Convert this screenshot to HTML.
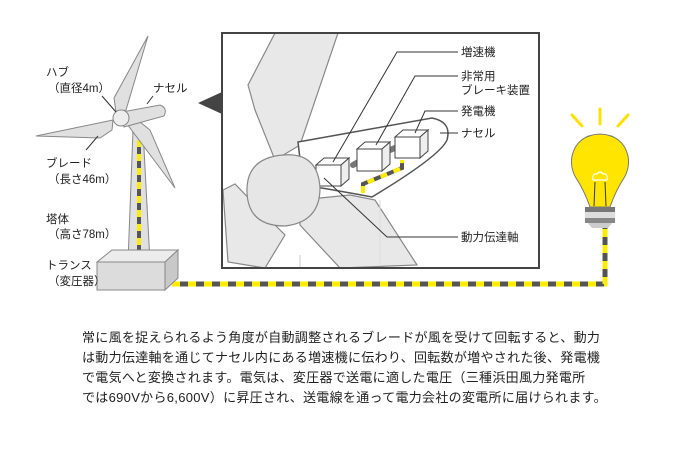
<!DOCTYPE html>
<html><head><meta charset="utf-8"><style>
html,body{margin:0;padding:0;background:#fff;}
svg{display:block;}
text{font-family:"Liberation Sans","Noto Sans CJK JP",sans-serif;fill:#222;}
</style></head><body>
<svg width="674" height="473" viewBox="0 0 674 473" xmlns="http://www.w3.org/2000/svg">
<!-- cable -->
<polyline points="172,284 605,284 605,228" fill="none" stroke="#555" stroke-width="5"/>
<polyline points="172,284 605,284 605,228" fill="none" stroke="#ffec00" stroke-width="5" stroke-dasharray="8,8"/>
<!-- tower -->
<polygon points="133,130 143,130 150,262 128,262" fill="#e0e0e0" stroke="#888" stroke-width="1"/>
<line x1="139" y1="140" x2="139" y2="258" stroke="#555" stroke-width="4"/>
<line x1="139" y1="140" x2="139" y2="258" stroke="#ffec00" stroke-width="4" stroke-dasharray="7,7"/>
<!-- base box -->
<polygon points="97,262 112,250 178,250 165,262" fill="#ececec" stroke="#888"/>
<polygon points="97,262 165,262 165,290 97,290" fill="#dcdcdc" stroke="#888"/>
<polygon points="165,262 178,250 178,278 165,290" fill="#c8c8c8" stroke="#888"/>
<!-- blades -->
<polygon points="148,36 126,110 116,112 114,98" fill="#e0e0e0" stroke="#888"/>
<polygon points="36,136 113,120 112,130 100,138" fill="#e0e0e0" stroke="#888"/>
<polygon points="175,188 127,124 135,118 150,130" fill="#e0e0e0" stroke="#888"/>
<!-- nacelle -->
<path d="M122,112 L160,105 Q168,108 164,116 L124,127 Z" fill="#e0e0e0" stroke="#888"/>
<circle cx="121" cy="118" r="8" fill="#ededed" stroke="#888"/>
<!-- leader lines -->
<line x1="102" y1="96" x2="116" y2="112" stroke="#333"/>
<line x1="86" y1="150" x2="98" y2="136" stroke="#333"/>
<line x1="153" y1="96" x2="147" y2="104" stroke="#333"/>
<!-- labels left -->
<g font-size="11.5">
<text x="46" y="76">ハブ</text>
<text x="48" y="92">（直径4m）</text>
<text x="153" y="92">ナセル</text>
<text x="46" y="167">ブレード</text>
<text x="48" y="183">（長さ46m）</text>
<text x="46" y="223">塔体</text>
<text x="48" y="238">（高さ78m）</text>
<text x="46" y="269">トランス</text>
<text x="48" y="285">（変圧器）</text>
</g>
<!-- pointer -->
<polygon points="198,103 222,92 222,114" fill="#444"/>
<!-- inset -->
<rect x="222" y="33" width="317" height="235" fill="#fff" stroke="#444" stroke-width="2"/>
<clipPath id="c"><rect x="223" y="34" width="315" height="233"/></clipPath>
<g clip-path="url(#c)">
<path d="M275,33 L338,33 L300,145 L275,160 L255,110 L248,85 Z" fill="#e8e8e8" stroke="#888" stroke-width="1.2"/>
<path d="M300,200 L350,195 L375,200 L417,265 L340,268 L300,225 Z" fill="#e8e8e8" stroke="#888" stroke-width="1.2"/>
<path d="M265,215 L285,235 L265,268 L228,262 L223,190 L235,184 Z" fill="#e8e8e8" stroke="#888" stroke-width="1.2"/>
<line x1="300" y1="268" x2="300" y2="255" stroke="#ccc"/>
<line x1="380" y1="200" x2="380" y2="265" stroke="#ddd"/>
<path d="M298,142 L432,118 Q452,122 447,140 Q440,156 372,197 Q335,190 303,185 Z" fill="#fff" stroke="#555" stroke-width="1.5"/>
<!-- shafts -->
<g stroke="#777" stroke-width="6" stroke-linecap="round">
<line x1="318" y1="178" x2="330" y2="172"/>
<line x1="353" y1="165" x2="362" y2="160"/>
<line x1="390" y1="150" x2="400" y2="146"/>
</g>
<polyline points="363,193 363,184 402,168 402,160" fill="none" stroke="#555" stroke-width="4"/>
<polyline points="363,193 363,184 402,168 402,160" fill="none" stroke="#ffec00" stroke-width="4" stroke-dasharray="7,7"/>
<!-- boxes -->
<g stroke="#444" stroke-width="1" fill="#fff">
<polygon points="316,165 341,165 349,158 324,158"/><rect x="316" y="165" width="25" height="21"/><polygon points="341,165 349,158 349,179 341,186" fill="#eee"/>
<polygon points="357,149 382,149 390,142 365,142"/><rect x="357" y="149" width="25" height="22"/><polygon points="382,149 390,142 390,164 382,171" fill="#eee"/>
<polygon points="395,137 420,137 428,130 403,130"/><rect x="395" y="137" width="25" height="21"/><polygon points="420,137 428,130 428,151 420,158" fill="#eee"/>
</g>
<path d="M283,155 Q318,152 320,188 Q320,222 285,226 Q248,226 247,192 Q246,158 283,155 Z" fill="#e6e6e6" stroke="#888" stroke-width="1.2"/>
</g>
<!-- inset leaders -->
<g stroke="#333" fill="none" stroke-width="1">
<polyline points="333,162 397,52 458,52"/>
<polyline points="376,145 415,76 458,76"/>
<polyline points="415,133 425,111 458,111"/>
<line x1="440" y1="133" x2="458" y2="133"/>
<polyline points="324,178 387,237 458,237"/>
</g>
<g font-size="11.5">
<text x="461" y="56">増速機</text>
<text x="461" y="80">非常用</text>
<text x="461" y="94">ブレーキ装置</text>
<text x="461" y="115">発電機</text>
<text x="461" y="137">ナセル</text>
<text x="461" y="241">動力伝達軸</text>
</g>
<!-- bulb -->
<g stroke="#ffe000" stroke-width="3" stroke-linecap="round">
<line x1="572" y1="115" x2="582" y2="126"/>
<line x1="600" y1="109" x2="600" y2="124"/>
<line x1="628" y1="115" x2="618" y2="126"/>
</g>
<path d="M590,207 Q584,190 576,178 Q570,168 572,156 Q577,135 600,134 Q623,135 628,156 Q630,168 624,178 Q616,190 610,207 Z" fill="#ffe500" stroke="#777" stroke-width="1"/>
<path d="M593,180 Q592,173 597,174 Q600,170 603,174 Q608,173 607,180 Z" fill="none" stroke="#fff" stroke-width="1.2"/>
<line x1="595" y1="182" x2="594" y2="206" stroke="#333"/>
<line x1="605" y1="182" x2="606" y2="206" stroke="#333"/>
<rect x="585" y="207" width="30" height="5" fill="#777"/>
<rect x="585" y="212" width="30" height="6" fill="#ddd"/>
<rect x="585" y="218" width="30" height="5" fill="#888"/>
<path d="M588,223 L612,223 L608,228 L592,228 Z" fill="#ccc"/>
<!-- description -->
<g font-size="13" letter-spacing="0.3">
<text x="82" y="342">常に風を捉えられるよう角度が自動調整されるブレードが風を受けて回転すると、動力</text>
<text x="82" y="362">は動力伝達軸を通じてナセル内にある増速機に伝わり、回転数が増やされた後、発電機</text>
<text x="82" y="382">で電気へと変換されます。電気は、変圧器で送電に適した電圧（三種浜田風力発電所</text>
<text x="82" y="402">では690Vから6,600V）に昇圧され、送電線を通って電力会社の変電所に届けられます。</text>
</g>
</svg>
</body></html>
